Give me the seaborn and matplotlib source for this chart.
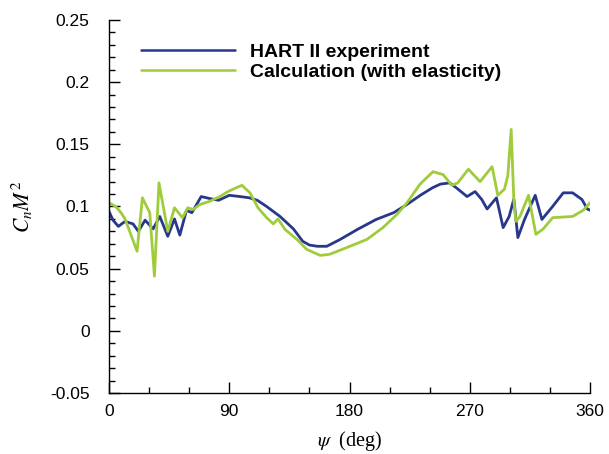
import matplotlib
matplotlib.use("Agg")
import matplotlib.pyplot as plt
import numpy as np
import pandas as pd
import seaborn as sns
from matplotlib.ticker import MultipleLocator, FuncFormatter
from matplotlib.lines import Line2D

# ---- data ----
series_labels = ["HART II experiment", "Calculation (with elasticity)"]

psi_exp = [0, 3, 7, 12, 18, 22, 27, 33, 38, 44, 49, 53, 58, 62, 69, 75, 82, 90,
           98, 105, 111, 118, 128, 138, 145, 150, 156, 163, 173, 186, 200, 213,
           223, 233, 242, 248, 255, 260, 268, 274, 279, 283, 290, 295, 299.5,
           303, 306, 311, 319, 324, 332, 340, 347, 354, 358, 360]
cn_exp = [0.096, 0.089, 0.084, 0.088, 0.086, 0.080, 0.089, 0.082, 0.092, 0.076,
          0.090, 0.077, 0.097, 0.095, 0.108, 0.1065, 0.105, 0.109, 0.108, 0.107,
          0.105, 0.100, 0.092, 0.082, 0.072, 0.069, 0.068, 0.068, 0.0735, 0.0816,
          0.0896, 0.095, 0.1016, 0.109, 0.115, 0.118, 0.119, 0.115, 0.108, 0.112,
          0.1056, 0.098, 0.107, 0.083, 0.092, 0.106, 0.075, 0.0896, 0.109, 0.0896,
          0.100, 0.111, 0.111, 0.1056, 0.098, 0.097]

psi_calc = [0, 5, 9, 12, 21, 25, 30.5, 34, 37.4, 44, 49, 55, 59, 63, 68, 75, 83,
            89, 95, 99.5, 105.5, 111.5, 118, 123, 126.5, 131.7, 140.7, 148, 158,
            165, 178, 193, 205, 215.5, 223, 232.8, 242.5, 250, 256.7, 261, 269,
            277.7, 286.7, 291, 296, 298.5, 301, 303, 304.5, 307.6, 314, 319.5,
            325, 332, 347, 355, 360]
cn_calc = [0.103, 0.100, 0.095, 0.090, 0.064, 0.107, 0.095, 0.044, 0.119, 0.080,
           0.099, 0.091, 0.099, 0.0976, 0.1016, 0.104, 0.108, 0.112, 0.115, 0.117,
           0.111, 0.099, 0.091, 0.086, 0.090, 0.0816, 0.0735, 0.0655, 0.0607,
           0.0615, 0.067, 0.0735, 0.083, 0.0936, 0.103, 0.118, 0.128, 0.1257,
           0.117, 0.119, 0.130, 0.120, 0.132, 0.109, 0.114, 0.125, 0.162, 0.105,
           0.088, 0.092, 0.109, 0.0776, 0.082, 0.091, 0.092, 0.097, 0.103]

x_ticks = [0, 90, 180, 270, 360]
y_ticks = [-0.05, 0, 0.05, 0.1, 0.15, 0.2, 0.25]

colors = ["#27388c", "#9fcc3b"]

# ---- styling ----
sns.set_style("ticks")
plt.rcParams["font.family"] = ["Liberation Sans", "DejaVu Sans"]
plt.rcParams["mathtext.fontset"] = "stix"
plt.rcParams["axes.unicode_minus"] = False
plt.rcParams["text.color"] = "black"
plt.rcParams["axes.labelcolor"] = "black"

df = pd.concat([
    pd.DataFrame({"psi": psi_exp, "cn": cn_exp, "series": series_labels[0]}),
    pd.DataFrame({"psi": psi_calc, "cn": cn_calc, "series": series_labels[1]}),
], ignore_index=True)

fig = plt.figure(figsize=(6.09, 4.54), dpi=100)
ax = fig.add_axes([109 / 609, 1 - 393 / 454, 481 / 609, 373 / 454])

sns.lineplot(data=df, x="psi", y="cn", hue="series", hue_order=series_labels,
             palette=colors, linewidth=2.0, estimator=None, sort=False,
             legend=False, ax=ax)

ax.set_xlim(0, 360)
ax.set_ylim(-0.05, 0.25)
ax.set_xticks(x_ticks)
ax.set_yticks(y_ticks)
ax.xaxis.set_minor_locator(MultipleLocator(30))
ax.yaxis.set_minor_locator(MultipleLocator(0.01))
ax.yaxis.set_major_formatter(FuncFormatter(lambda v, p: "%g" % round(v, 4)))
ax.xaxis.set_major_formatter(FuncFormatter(lambda v, p: "%g" % v))

ax.tick_params(which="major", direction="in", length=8, width=1.0,
               labelsize=12.5, colors="black")
ax.tick_params(which="minor", direction="in", length=4, width=1.0,
               colors="black")
ax.tick_params(axis="y", which="major", pad=14)
ax.tick_params(axis="x", which="major", pad=8)

sns.despine(ax=ax)
for s in ("left", "bottom"):
    ax.spines[s].set_linewidth(1.0)
    ax.spines[s].set_color("black")

ax.set_xlabel(r"$\psi$  (deg)", fontsize=14.5, family="Liberation Serif",
              labelpad=7, color="black")
ax.set_ylabel(r"$C_nM^2$", fontsize=15.5, labelpad=11, color="black")

handles = [Line2D([], [], color=c, lw=1.8) for c in colors]
leg = ax.legend(handles, series_labels, loc="upper left",
                bbox_to_anchor=(0.0665, 0.937), frameon=False,
                prop={"weight": "bold", "size": 14}, handlelength=4.85,
                handletextpad=0.78, labelspacing=0.12, borderpad=0,
                borderaxespad=0)
for t in leg.get_texts():
    t.set_color("black")

fig.savefig("out.png", dpi=100)
